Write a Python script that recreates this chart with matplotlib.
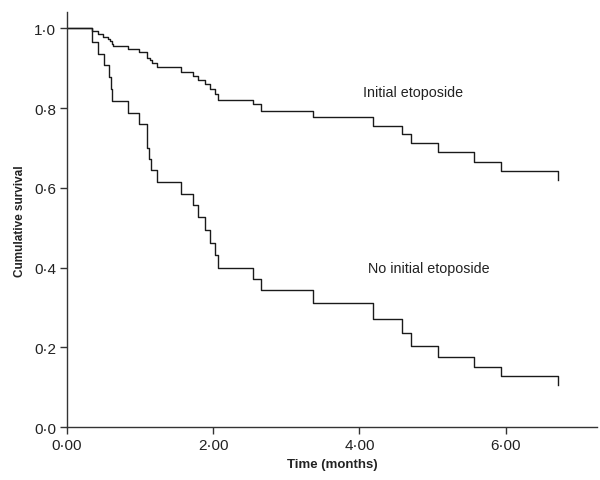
import matplotlib.pyplot as plt
import numpy as np
from matplotlib.ticker import FuncFormatter

plt.rcParams['font.family'] = ['Liberation Sans', 'DejaVu Sans']

# Kaplan-Meier event times (months) and survival after each event
etop_times = [0.34, 0.42, 0.49, 0.56, 0.59, 0.61, 0.63, 0.83, 0.99, 1.10, 1.13, 1.16,
              1.23, 1.56, 1.73, 1.79, 1.89, 1.96, 2.02, 2.06, 2.55, 2.65, 3.36, 4.18,
              4.58, 4.71, 5.08, 5.57, 5.94, 6.71]
etop_surv = [0.9925, 0.985, 0.979, 0.974, 0.9675, 0.962, 0.956, 0.948, 0.941, 0.926,
             0.92, 0.913, 0.902, 0.89, 0.88, 0.87, 0.86, 0.848, 0.835, 0.82, 0.81,
             0.794, 0.778, 0.756, 0.735, 0.713, 0.69, 0.666, 0.643, 0.62]

noetop_times = [0.34, 0.43, 0.50, 0.57, 0.60, 0.62, 0.83, 0.99, 1.09, 1.10, 1.12, 1.15,
                1.23, 1.56, 1.73, 1.79, 1.89, 1.96, 2.02, 2.06, 2.55, 2.65, 3.36, 4.18,
                4.58, 4.71, 5.08, 5.57, 5.94, 6.71]
noetop_surv = [0.967, 0.937, 0.908, 0.878, 0.849, 0.818, 0.789, 0.759, 0.73, 0.70,
               0.673, 0.645, 0.615, 0.585, 0.556, 0.526, 0.495, 0.463, 0.432, 0.40,
               0.372, 0.343, 0.312, 0.272, 0.237, 0.203, 0.176, 0.151, 0.127, 0.105]

x_ticks = [0, 2, 4, 6]
y_ticks = [0.0, 0.2, 0.4, 0.6, 0.8, 1.0]

fig = plt.figure(figsize=(6.0, 4.81), dpi=100)
ax = fig.add_axes([0.1117, 0.110, 0.8833, 0.862])

axis_col = '#333333'
line_col = '#1a1a1a'

for times, surv in [(etop_times, etop_surv), (noetop_times, noetop_surv)]:
    t = np.concatenate([[0.0], times])
    s = np.concatenate([[1.0], surv])
    ax.step(t, s, where='post', color=line_col, lw=1.0)

ax.text(4.05, 0.84, 'Initial etoposide', fontsize=10.3, va='center', ha='left', color='#222222')
ax.text(4.12, 0.40, 'No initial etoposide', fontsize=10.3, va='center', ha='left', color='#222222')

ax.set_xlim(0, 7.25)
ax.set_ylim(0, 1.04)
ax.set_xticks(x_ticks)
ax.set_yticks(y_ticks)
ax.xaxis.set_major_formatter(FuncFormatter(lambda v, p: f'{v:.2f}'.replace('.', '\u00b7')))
ax.yaxis.set_major_formatter(FuncFormatter(lambda v, p: f'{v:.1f}'.replace('.', '\u00b7')))

for side in ['top', 'right']:
    ax.spines[side].set_visible(False)
for side in ['left', 'bottom']:
    ax.spines[side].set_color(axis_col)
    ax.spines[side].set_linewidth(1.0)

ax.tick_params(direction='out', length=5, width=1.0, color=axis_col,
               labelsize=11, labelcolor='#222222', pad=3)

ax.set_xlabel('Time (months)', fontsize=9.5, fontweight='bold', color='#222222', labelpad=4)
ax.set_ylabel('Cumulative survival', fontsize=8.5, fontweight='bold', color='#222222', labelpad=6)

fig.savefig('out.png', dpi=100)
